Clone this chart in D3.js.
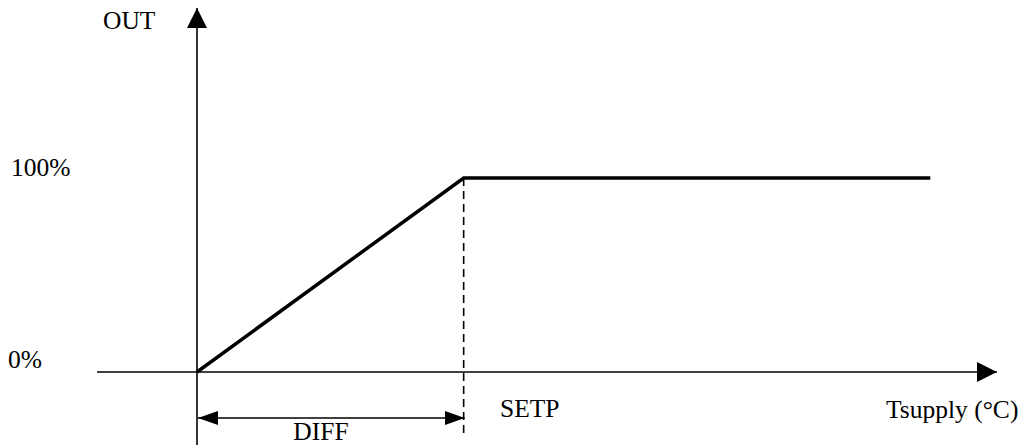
<!DOCTYPE html>
<html><head><meta charset="utf-8">
<script src="https://cdn.jsdelivr.net/npm/d3@7"></script>
<style>html,body{margin:0;padding:0;background:#fff;}svg{display:block;}</style>
</head><body>
<svg id="c" width="1023" height="445"></svg>
<script>
// Data (abstract units: x in multiples of DIFF from origin, y in % output)
const outX = [0, 1, 2.75];
const outY = [0, 100, 100];
const yTickValues = [0, 100];
const yTickLabels = ["0%", "100%"];
const yAxisTitle = "OUT";
const xAxisTitle = "Tsupply (°C)";
const setpLabel = "SETP";
const diffLabel = "DIFF";
const setpValue = 1;

const svg = d3.select("#c");
const x = d3.scaleLinear().domain([-0.375, 3]).range([97, 997]);
const y = d3.scaleLinear().domain([0, 100]).range([372, 178]);
const font = "'Liberation Serif', 'Times New Roman', serif";
const fs = 25.5;

const defs = svg.append("defs");
defs.append("marker").attr("id","ah").attr("viewBox","0 0 20 20").attr("refX",20).attr("refY",10)
  .attr("markerWidth",20).attr("markerHeight",20).attr("markerUnits","userSpaceOnUse").attr("orient","auto-start-reverse")
  .append("path").attr("d","M0,0 L20,10 L0,20 Z").attr("fill","#000");
defs.append("marker").attr("id","dh").attr("viewBox","0 0 20 16").attr("refX",20).attr("refY",8)
  .attr("markerWidth",20).attr("markerHeight",16).attr("markerUnits","userSpaceOnUse").attr("orient","auto-start-reverse")
  .append("path").attr("d","M0,1 L20,8 L0,15 Z").attr("fill","#000");

// X axis
svg.append("line").attr("x1", x(-0.375)).attr("x2", x(3)).attr("y1", y(0)).attr("y2", y(0))
  .attr("stroke","#000").attr("stroke-width",1.6).attr("marker-end","url(#ah)");
// Y axis
svg.append("line").attr("x1", x(0)).attr("x2", x(0)).attr("y1", 445).attr("y2", 8)
  .attr("stroke","#000").attr("stroke-width",1.6).attr("marker-end","url(#ah)");

// Dashed SETP line
svg.append("line").attr("x1", x(setpValue)).attr("x2", x(setpValue)).attr("y1", y(100)).attr("y2", 436)
  .attr("stroke","#000").attr("stroke-width",1.6).attr("stroke-dasharray","8,5");

// Output curve
const line = d3.line().x((d,i)=>x(outX[i])).y((d,i)=>y(outY[i]));
svg.append("path").attr("d", line(outX)).attr("fill","none").attr("stroke","#000")
  .attr("stroke-width",3.5).attr("stroke-linejoin","miter");

// DIFF dimension arrow
svg.append("line").attr("x1", x(0)+1).attr("x2", x(setpValue)+1).attr("y1", 418).attr("y2", 418)
  .attr("stroke","#000").attr("stroke-width",1.6)
  .attr("marker-start","url(#dh)").attr("marker-end","url(#dh)");

// Texts
const t = (s, px, py, anchor) => svg.append("text").attr("x",px).attr("y",py).attr("text-anchor",anchor||"start")
  .attr("font-family",font).attr("font-size",fs).attr("fill","#000").text(s);
t(yAxisTitle, 103, 29);
yTickValues.forEach((v,i)=> t(yTickLabels[i], i===0 ? 8 : 11, y(v) - (i===0 ? 4 : 2)));
t(setpLabel, 500, 417);
t(xAxisTitle, 886, 418);
t(diffLabel, 321, 440, "middle");
</script>
</body></html>
